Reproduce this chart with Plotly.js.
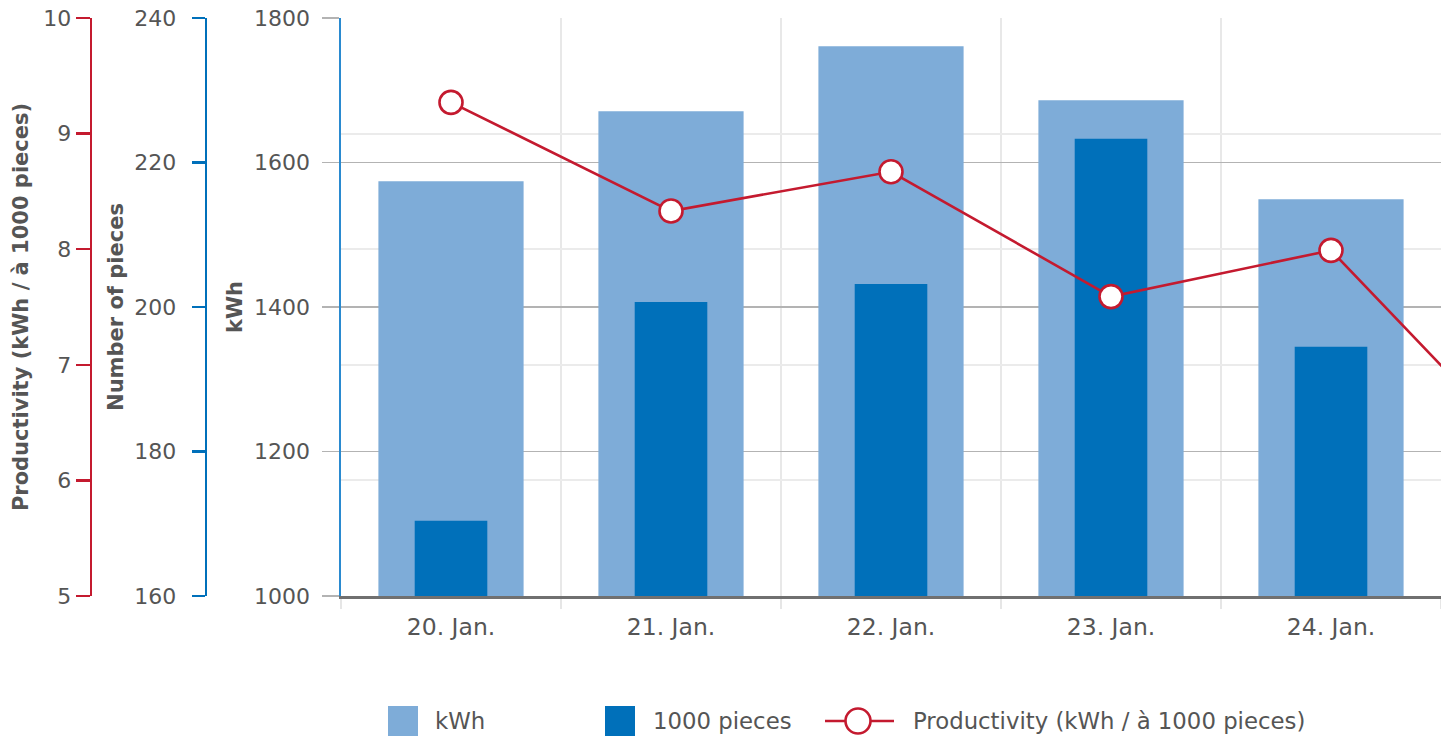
<!DOCTYPE html>
<html>
<head>
<meta charset="utf-8">
<script src="https://cdn.plot.ly/plotly-3.0.1.min.js"></script>
<style>
html,body{margin:0;padding:0;background:#fff;}
#chart{width:1441px;height:738px;}
</style>
</head>
<body>
<div id="chart"></div>
<script>
// ---- data ----
const categories = ['20. Jan.', '21. Jan.', '22. Jan.', '23. Jan.', '24. Jan.', '25. Jan.'];
const kwhValues = [1574, 1671, 1761, 1686, 1549];
const pieceValues = [170.4, 200.7, 203.2, 223.3, 194.5];
const productivityValues = [9.27, 8.33, 8.67, 7.59, 7.99, 6.0];
const seriesNames = ['kWh', '1000 pieces', 'Productivity (kWh / à 1000 pieces)'];
const kwhAxisTitle = 'kWh';
const piecesAxisTitle = 'Number of pieces';
const productivityAxisTitle = 'Productivity (kWh / à 1000 pieces)';

// ---- styles ----
const W = 1441, H = 738;
const plotLeft = 341, plotTop = 18, plotBottom = 596;
const cLight = '#7eacd8', cDark = '#0070ba', cRed = '#c41a2f', cText = '#555555';
const FONT = '"DejaVu Sans", Verdana, sans-serif';
const px2x = p => p / W;
const px2y = p => (plotBottom - p) / (plotBottom - plotTop);

const shown = categories.slice(0, kwhValues.length);

const traces = [
  {type: 'bar', name: seriesNames[0], x: shown, y: kwhValues, yaxis: 'y',
   width: 0.66, marker: {color: cLight}, hoverinfo: 'skip'},
  {type: 'bar', name: seriesNames[1], x: shown, y: pieceValues, yaxis: 'y2',
   width: 0.33, marker: {color: cDark}, hoverinfo: 'skip'},
  {type: 'scatter', name: seriesNames[2], x: categories, y: productivityValues, yaxis: 'y3',
   mode: 'lines+markers', cliponaxis: true,
   line: {color: cRed, width: 2.6},
   marker: {symbol: 'circle', size: 23, color: '#ffffff', line: {color: cRed, width: 2.6}},
   hoverinfo: 'skip'}
];

// custom legend
const legY = 721, sq = 30;
const shapes = [
  {type: 'rect', xref: 'paper', yref: 'paper', x0: px2x(388), x1: px2x(388 + sq), y0: px2y(legY - sq/2), y1: px2y(legY + sq/2), fillcolor: cLight, line: {width: 0}},
  {type: 'rect', xref: 'paper', yref: 'paper', x0: px2x(605), x1: px2x(605 + sq), y0: px2y(legY - sq/2), y1: px2y(legY + sq/2), fillcolor: cDark, line: {width: 0}},
  {type: 'line', xref: 'paper', yref: 'paper', x0: px2x(825), x1: px2x(894), y0: px2y(legY), y1: px2y(legY), line: {color: cRed, width: 2.6}},
  {type: 'circle', xref: 'paper', yref: 'paper', x0: px2x(858 - 12.5), x1: px2x(858 + 12.5), y0: px2y(legY - 12.5), y1: px2y(legY + 12.5), fillcolor: '#ffffff', line: {color: cRed, width: 2.6}}
];
const legX = [433, 651, 911];
const annotations = seriesNames.map((n, i) => ({
  xref: 'paper', yref: 'paper', x: px2x(legX[i]), y: px2y(legY), xanchor: 'left', yanchor: 'middle',
  text: n, showarrow: false, font: {family: FONT, size: 22.8, color: cText}
}));

const tickFont = {family: FONT, size: 22, color: cText};
const titleFont = {family: FONT, size: 21, color: cText, weight: 'bold'};

const layout = {
  width: W, height: H,
  margin: {l: 0, r: 0, t: plotTop, b: H - plotBottom, pad: 0},
  paper_bgcolor: '#ffffff', plot_bgcolor: '#ffffff',
  showlegend: false,
  barmode: 'overlay',
  font: {family: FONT, color: cText},
  xaxis: {
    type: 'category', categoryorder: 'array', categoryarray: categories,
    domain: [plotLeft / W, 1], range: [-0.5, 4.5], fixedrange: true,
    tickson: 'boundaries', ticks: 'outside', ticklen: 10, tickcolor: '#e6e6e6', tickwidth: 2,
    showgrid: true, gridcolor: '#e8e8e8', gridwidth: 2,
    showline: true, linecolor: '#707070', linewidth: 2.5,
    tickfont: {family: FONT, size: 23.5, color: cText}, ticklabelstandoff: 8, automargin: false
  },
  yaxis: {
    range: [1000, 1800], dtick: 200, side: 'left', anchor: 'x', fixedrange: true,
    showline: true, linecolor: '#2a8ad0', linewidth: 2.5,
    ticks: 'outside', ticklen: 17, tickcolor: '#b3b3b3', tickwidth: 1.5,
    showgrid: true, gridcolor: '#b3b3b3', gridwidth: 1.5, zeroline: false,
    tickfont: tickFont, ticklabelstandoff: 7, automargin: false,
    title: {text: kwhAxisTitle, font: titleFont, standoff: 6}
  },
  yaxis2: {
    range: [160, 240], dtick: 20, overlaying: 'y', anchor: 'free', side: 'left',
    position: 205.7 / W, fixedrange: true,
    showline: true, linecolor: cDark, linewidth: 2.5,
    ticks: 'outside', ticklen: 13, tickcolor: cDark, tickwidth: 2.5,
    showgrid: false, zeroline: false,
    tickfont: tickFont, ticklabelstandoff: 11, automargin: false,
    title: {text: piecesAxisTitle, font: titleFont, standoff: 4}
  },
  yaxis3: {
    range: [5, 10], dtick: 1, overlaying: 'y', anchor: 'free', side: 'left',
    position: 90.7 / W, fixedrange: true,
    showline: true, linecolor: cRed, linewidth: 2.5,
    ticks: 'outside', ticklen: 14, tickcolor: cRed, tickwidth: 2.5,
    showgrid: true, gridcolor: '#ebebeb', gridwidth: 2, zeroline: false,
    tickfont: tickFont, ticklabelstandoff: 0, automargin: false,
    title: {text: productivityAxisTitle, font: titleFont, standoff: 8}
  },
  shapes: shapes,
  annotations: annotations
};

Plotly.newPlot('chart', traces, layout, {staticPlot: true, displayModeBar: false});
</script>
</body>
</html>
